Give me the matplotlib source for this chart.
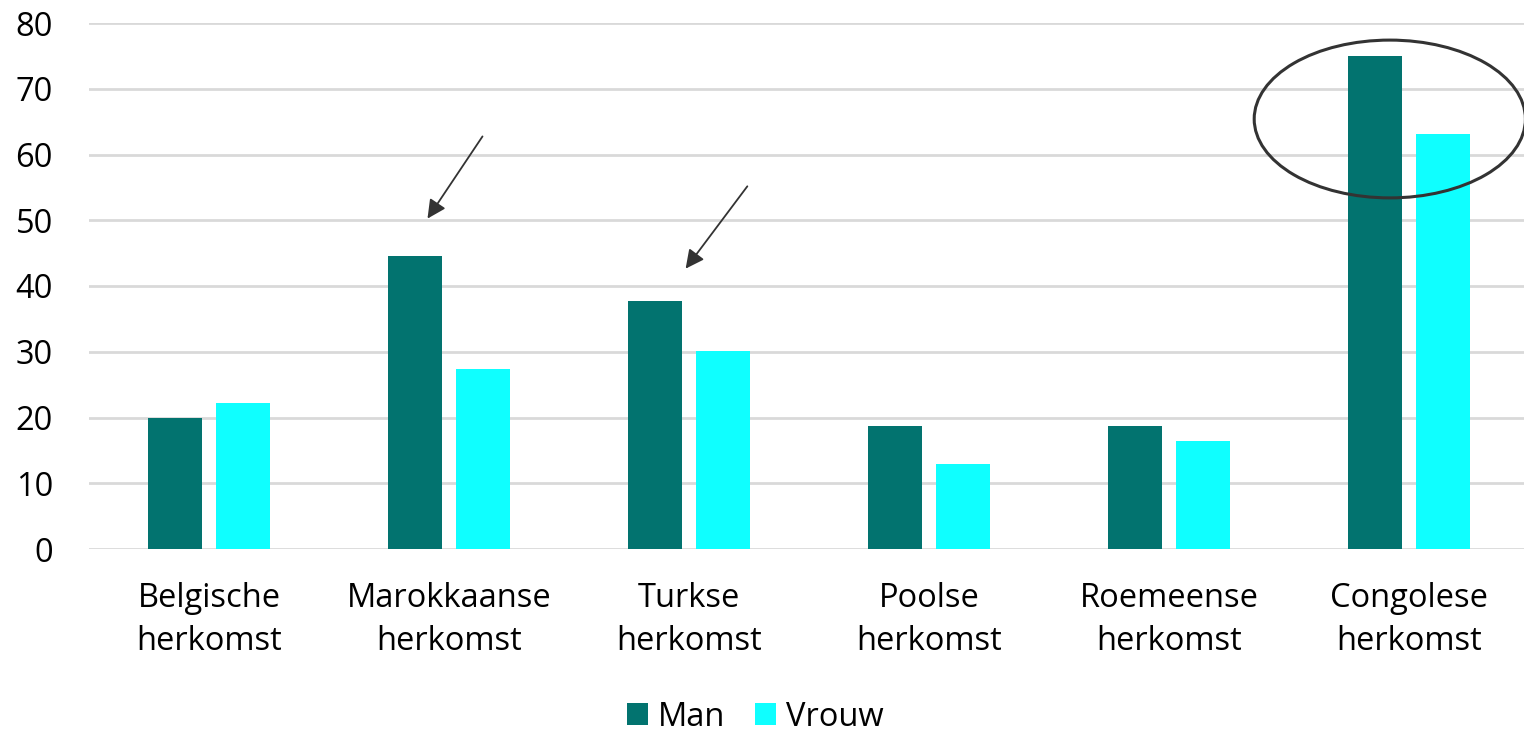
import matplotlib.pyplot as plt
import numpy as np
from matplotlib.patches import Ellipse

categories = ["Belgische\nherkomst", "Marokkaanse\nherkomst", "Turkse\nherkomst",
              "Poolse\nherkomst", "Roemeense\nherkomst", "Congolese\nherkomst"]
man = [20.0, 44.6, 37.7, 18.7, 18.7, 75.0]
vrouw = [22.2, 27.4, 30.1, 12.9, 16.4, 63.1]

plt.rcParams['font.family'] = ['Open Sans', 'DejaVu Sans']

fig = plt.figure(figsize=(15.24, 7.34), dpi=100)
ax = fig.add_axes([89/1524, 1 - 549/734, 1440/1524, 526/734])

x = np.arange(len(categories))
w = 0.225
off = 0.143
ax.bar(x - off, man, w, color='#02736F', label='Man', zorder=3)
ax.bar(x + off, vrouw, w, color='#0FFFFF', label='Vrouw', zorder=3)

ax.set_xlim(-0.5, len(categories) - 0.5)
ax.set_ylim(0, 80)
ax.set_yticks(range(0, 81, 10))
ax.grid(axis='y', color='#D9D9D9', lw=2, zorder=0)
for s in ax.spines.values():
    s.set_visible(False)
ax.tick_params(axis='both', length=0, labelsize=23.5)
ax.tick_params(axis='y', pad=26)
ax.tick_params(axis='x', pad=24)
ax.set_xticks(x)
ax.set_xticklabels(categories, linespacing=1.4)

# annotations
ax.annotate('', xy=(0.904, 49.9), xytext=(1.146, 63.1),
            arrowprops=dict(arrowstyle='-|>', color='#333333', lw=1.3, mutation_scale=28))
ax.annotate('', xy=(1.979, 42.3), xytext=(2.25, 55.5),
            arrowprops=dict(arrowstyle='-|>', color='#333333', lw=1.3, mutation_scale=28))
ax.add_patch(Ellipse((4.92, 65.4), 1.13, 24.0, fill=False, ec='#333333', lw=2.2,
                     zorder=4, clip_on=False))

ax.legend(loc='center', bbox_to_anchor=(755/1524, 1 - 717/734), bbox_transform=fig.transFigure,
          ncol=2, frameon=False, fontsize=23.5, handlelength=0.65, handleheight=0.65,
          handletextpad=0.3, columnspacing=0.9)

fig.savefig('out.png', dpi=100)
